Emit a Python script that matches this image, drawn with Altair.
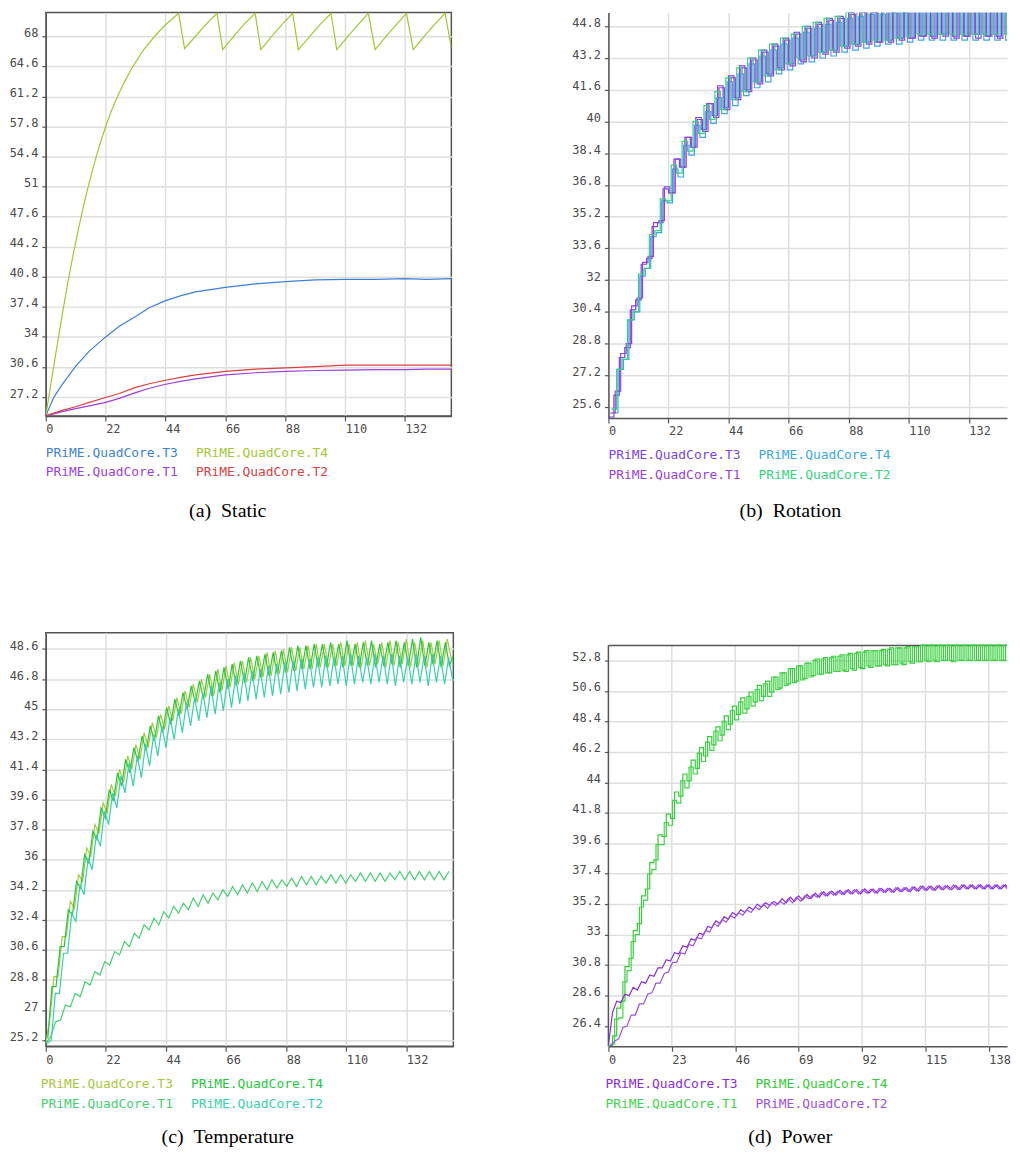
import altair as alt
import pandas as pd

NAMES = ["PRiME.QuadCore.T3", "PRiME.QuadCore.T4", "PRiME.QuadCore.T1", "PRiME.QuadCore.T2"]

# ---------------- (a) Static ----------------
a_t4_t = [0, 2, 4, 6, 8, 10, 12, 14, 16, 18, 20, 22, 24, 26.5, 29, 32, 36, 40, 44, 48.8,
          51, 55, 59, 62.9, 65, 69, 73, 76.9, 79, 83, 87, 90.7, 92.8, 97, 101, 104.8,
          106.9, 111, 115, 118.5, 121, 125, 129, 132.5, 135, 139, 143, 146.7, 149]
a_t4_v = [25.1, 28.9, 32.7, 36.4, 40.0, 43.2, 46.2, 49.0, 51.5, 53.8, 55.9, 57.8, 59.5, 61.3, 62.9, 64.6, 66.5, 68.0, 69.3, 70.6,
          66.6, 68.0, 69.4, 70.6, 66.5, 68.0, 69.4, 70.6, 66.5, 68.0, 69.4, 70.6, 66.5, 68.0, 69.4, 70.6,
          66.5, 68.0, 69.4, 70.6, 66.5, 68.0, 69.4, 70.6, 66.5, 68.0, 69.4, 70.6, 66.7]
a_t = [0, 3, 6, 11, 16, 22, 27, 33, 38, 44, 50, 55, 66, 77, 88, 99, 110, 121, 132, 140, 149]
a_t3_v = [25.1, 27.2, 28.6, 30.7, 32.4, 34.0, 35.2, 36.3, 37.3, 38.1, 38.7, 39.1, 39.6, 40.0, 40.25, 40.45, 40.5, 40.5, 40.6, 40.5, 40.6]
a_t2_v = [25.1, 25.4, 25.7, 26.1, 26.6, 27.15, 27.6, 28.3, 28.7, 29.1, 29.45, 29.7, 30.1, 30.35, 30.5, 30.65, 30.8, 30.8, 30.8, 30.8, 30.8]
a_t1_v = [25.1, 25.3, 25.55, 25.9, 26.2, 26.6, 27.05, 27.7, 28.2, 28.65, 29.0, 29.25, 29.7, 29.95, 30.1, 30.2, 30.25, 30.3, 30.3, 30.35, 30.35]
a_colors = ["#3c7fd8", "#a0c832", "#9b3fdf", "#d9403f"]
a_yticks = [27.2, 30.6, 34, 37.4, 40.8, 44.2, 47.6, 51, 54.4, 57.8, 61.2, 64.6, 68]

# ---------------- (b) Rotation (samples every 2 s) ----------------
b_t3_v = [25.1, 26.2, 28.1, 28.6, 30.5, 31.0, 32.8, 33.1, 34.7, 34.9,
          36.6, 36.4, 38.1, 37.7, 39.2, 38.7, 40.2, 39.6, 40.9, 40.3,
          41.8, 40.7, 42.3, 41.2, 42.8, 41.6, 43.2, 42.0, 43.6, 42.4,
          43.9, 42.7, 44.2, 42.9, 44.5, 43.1, 44.8, 43.3, 45.0, 43.5,
          45.2, 43.6, 45.3, 43.8, 45.5, 43.9, 45.6, 44.0, 45.6, 44.0,
          45.7, 44.1, 45.7, 44.2, 45.8, 44.2, 45.9, 44.3, 45.9, 44.3,
          46.0, 44.4, 45.9, 44.3, 46.0, 44.3, 45.9, 44.4, 46.0, 44.3,
          45.9, 44.3, 46.0, 44.4, 45.9]
b_t1_v = [25.3, 26.4, 28.3, 28.8, 30.7, 31.1, 32.9, 33.2, 34.9, 35.0,
          36.7, 36.4, 38.1, 37.7, 39.2, 38.7, 40.1, 39.5, 40.9, 40.2,
          41.7, 40.6, 42.2, 41.1, 42.7, 41.5, 43.1, 41.9, 43.5, 42.3,
          43.8, 42.6, 44.1, 42.8, 44.4, 43.0, 44.7, 43.2, 44.9, 43.4,
          45.1, 43.5, 45.2, 43.7, 45.4, 43.8, 45.5, 43.9, 45.5, 44.0,
          45.6, 44.0, 45.6, 44.1, 45.7, 44.2, 45.8, 44.3, 45.8, 44.2,
          45.9, 44.3, 45.8, 44.2, 45.9, 44.3, 45.8, 44.2, 45.9, 44.3,
          45.8, 44.2, 45.9, 44.3, 45.8]
b_t2_v = [25.5, 27.5, 28.0, 30.0, 30.4, 32.3, 32.6, 34.3, 34.5, 36.1,
          36.0, 37.8, 37.4, 39.0, 38.5, 40.0, 39.4, 40.8, 40.1, 41.5,
          40.6, 42.2, 41.1, 42.7, 41.5, 43.2, 42.0, 43.6, 42.3, 43.9,
          42.6, 44.2, 42.9, 44.4, 43.2, 44.8, 43.3, 45.0, 43.5, 45.2,
          43.6, 45.3, 43.8, 45.5, 43.9, 45.6, 44.0, 45.7, 44.1, 45.7,
          44.1, 45.8, 44.2, 45.8, 44.3, 45.9, 44.4, 46.0, 44.4, 46.0,
          44.4, 46.0, 44.4, 46.0, 44.4, 46.0, 44.4, 46.0, 44.4, 46.0,
          44.4, 46.0, 44.4, 46.0, 44.4]
b_t4_v = [25.3, 27.5, 28.0, 30.0, 30.4, 32.2, 32.6, 34.2, 34.4, 36.0,
          35.9, 37.6, 37.2, 38.8, 38.3, 39.8, 39.2, 40.5, 39.9, 41.2,
          40.4, 42.0, 40.8, 42.4, 41.3, 42.9, 41.7, 43.3, 42.0, 43.6,
          42.4, 43.9, 42.6, 44.2, 42.9, 44.5, 43.0, 44.7, 43.2, 44.9,
          43.3, 45.0, 43.5, 45.2, 43.6, 45.3, 43.7, 45.4, 43.8, 45.4,
          43.9, 45.5, 43.9, 45.5, 44.0, 45.6, 44.1, 45.7, 44.1, 45.7,
          44.1, 45.7, 44.1, 45.7, 44.1, 45.7, 44.1, 45.7, 44.1, 45.7,
          44.1, 45.7, 44.1, 45.7, 44.1]
b_colors = ["#7a45e6", "#3aa8e3", "#9b40e0", "#33d47c"]
b_yticks = [25.6, 27.2, 28.8, 30.4, 32, 33.6, 35.2, 36.8, 38.4, 40, 41.6, 43.2, 44.8]

# ---------------- (c) Temperature ----------------
c_t3_v = [25.0, 26.5, 29.0, 29.0, 31.4, 31.4, 33.5, 33.1, 35.1, 34.7,
          36.7, 36.2, 38.1, 37.6, 39.4, 38.8, 40.5, 39.8, 41.4, 40.6,
          42.2, 41.4, 42.9, 42.0, 43.6, 42.7, 44.2, 43.3, 44.7, 43.8,
          45.2, 44.3, 45.7, 44.7, 46.1, 45.1, 46.5, 45.4, 46.8, 45.7,
          47.1, 45.8, 47.4, 46.1, 47.6, 46.3, 47.8, 46.5, 47.9, 46.6,
          48.1, 46.8, 48.2, 46.9, 48.4, 47.0, 48.5, 47.1, 48.6, 47.2,
          48.7, 47.3, 48.7, 47.4, 48.8, 47.4, 48.9, 47.5, 48.9, 47.5,
          48.9, 47.6, 49.0, 47.6, 48.9, 47.6, 49.0, 47.5, 49.1, 47.6,
          48.9, 47.7, 49.0, 47.5, 49.1, 47.6, 49.0, 47.7, 49.2, 47.5,
          49.0, 47.6, 49.1, 47.5, 49.0, 47.7, 49.1, 47.6, 49.2, 48.0]
c_t4_v = [25.3, 28.4, 28.4, 30.8, 30.8, 33.0, 32.7, 34.7, 34.3, 36.3,
          35.8, 37.7, 37.2, 39.1, 38.5, 40.2, 39.5, 41.2, 40.4, 42.0,
          41.2, 42.7, 41.9, 43.4, 42.5, 44.0, 43.1, 44.6, 43.6, 45.1,
          44.1, 45.6, 44.6, 46.0, 45.0, 46.4, 45.4, 46.7, 45.6, 47.1,
          45.8, 47.3, 46.0, 47.5, 46.2, 47.7, 46.4, 47.9, 46.6, 48.1,
          46.7, 48.2, 46.9, 48.3, 47.0, 48.4, 47.1, 48.5, 47.2, 48.7,
          47.3, 48.8, 47.4, 48.8, 47.4, 48.9, 47.5, 48.9, 47.5, 49.0,
          47.6, 48.9, 47.5, 49.1, 47.6, 48.9, 47.5, 49.0, 47.6, 49.1,
          47.5, 48.9, 47.6, 49.0, 47.7, 49.1, 47.5, 49.0, 47.6, 49.2,
          47.5, 49.3, 47.6, 49.0, 47.7, 49.1, 47.5, 49.0, 47.6, 48.2]
c_t2_v = [25.0, 25.2, 28.0, 28.0, 30.4, 30.4, 32.8, 32.3, 34.5, 33.9,
          36.1, 35.4, 37.5, 36.8, 38.9, 38.1, 40.0, 39.1, 41.0, 40.0,
          41.8, 40.4, 42.2, 40.9, 42.9, 41.6, 43.5, 42.2, 44.0, 42.7,
          44.5, 43.2, 45.0, 43.6, 45.4, 44.0, 45.7, 44.3, 46.0, 44.5,
          46.4, 44.7, 46.6, 44.9, 46.8, 45.1, 47.0, 45.3, 47.2, 45.5,
          47.3, 45.6, 47.4, 45.7, 47.6, 45.8, 47.7, 45.9, 47.8, 46.0,
          47.9, 46.1, 48.0, 46.2, 48.0, 46.3, 48.1, 46.3, 48.2, 46.4,
          48.1, 46.5, 48.2, 46.4, 48.3, 46.5, 48.2, 46.6, 48.1, 46.5,
          48.3, 46.6, 48.2, 46.5, 48.3, 46.4, 48.2, 46.6, 48.1, 46.5,
          48.3, 46.6, 48.2, 46.4, 48.3, 46.6, 48.2, 46.5, 48.1, 46.7]
c_t1_v = [25.0, 25.4, 26.3, 26.4, 27.3, 27.2, 28.0, 27.8, 28.7, 28.5,
          29.3, 29.1, 29.9, 29.7, 30.5, 30.3, 31.1, 30.8, 31.6, 31.3,
          32.1, 31.8, 32.5, 32.1, 32.9, 32.5, 33.2, 32.8, 33.4, 33.0,
          33.7, 33.2, 33.9, 33.4, 34.0, 33.6, 34.2, 33.8, 34.4, 33.9,
          34.5, 34.0, 34.6, 34.1, 34.7, 34.2, 34.8, 34.3, 34.8, 34.4,
          34.9, 34.4, 35.0, 34.5, 35.0, 34.5, 35.0, 34.6, 35.1, 34.6,
          35.1, 34.6, 35.1, 34.7, 35.2, 34.7, 35.2, 34.7, 35.2, 34.7,
          35.2, 34.8, 35.3, 34.8, 35.3, 34.8, 35.3, 34.8, 35.3, 34.8,
          35.3, 34.8, 35.3]
c_colors = ["#a5c83c", "#22c83e", "#44d070", "#35d0b0"]
c_yticks = [25.2, 27, 28.8, 30.6, 32.4, 34.2, 36, 37.8, 39.6, 41.4, 43.2, 45, 46.8, 48.6]

# ---------------- (d) Power ----------------
d_t4_v = [25.0, 25.7, 27.7, 28.2, 30.7, 31.3, 33.3, 33.8, 35.8, 36.3,
          38.2, 38.4, 40.2, 40.1, 41.7, 41.4, 43.3, 43.0, 44.6, 44.1,
          45.6, 45.0, 46.5, 45.9, 47.3, 46.7, 48.0, 47.4, 48.8, 48.2,
          49.5, 48.9, 50.1, 49.3, 50.5, 49.8, 51.0, 50.2, 51.3, 50.5,
          51.6, 50.8, 51.9, 51.1, 52.2, 51.3, 52.4, 51.5, 52.6, 51.7,
          52.9, 51.8, 53.0, 51.9, 53.1, 52.0, 53.2, 52.0, 53.3, 52.1,
          53.4, 52.2, 53.5, 52.3, 53.5, 52.4, 53.6, 52.4, 53.7, 52.5,
          53.7, 52.5, 53.8, 52.6, 53.8, 52.7, 53.9, 52.7, 53.9, 52.7,
          53.9, 52.8, 53.9, 52.7, 53.9, 52.8, 53.9, 52.8, 53.9, 52.8,
          53.9, 52.8, 53.9, 52.8, 53.9, 52.8, 53.9, 52.8, 53.9, 52.8]
d_t1_v = [25.1, 26.9, 27.0, 29.6, 30.4, 32.5, 33.0, 35.0, 35.5, 37.4,
          37.7, 39.5, 39.5, 41.1, 40.9, 42.7, 42.5, 44.1, 43.6, 45.1,
          44.6, 46.1, 45.5, 46.9, 46.3, 47.7, 47.0, 48.4, 47.8, 49.2,
          48.5, 49.8, 49.0, 50.2, 49.5, 50.7, 49.9, 51.1, 50.2, 51.6,
          50.7, 51.9, 51.0, 52.2, 51.2, 52.4, 51.4, 52.6, 51.6, 52.8,
          51.8, 52.9, 51.9, 53.0, 52.0, 53.1, 52.1, 53.2, 52.2, 53.3,
          52.3, 53.4, 52.4, 53.5, 52.4, 53.5, 52.5, 53.6, 52.5, 53.7,
          52.6, 53.7, 52.7, 53.8, 52.7, 53.9, 52.8, 53.9, 52.8, 53.9,
          52.8, 53.9, 52.8, 53.9, 52.8, 53.9, 52.8, 53.9, 52.8, 53.9,
          52.8, 53.9, 52.8, 53.9, 52.8, 53.9, 52.8, 53.9, 52.8, 53.9]
d_t3_v = [25.0, 27.4, 28.2, 28.1, 28.7, 28.6, 29.2, 29.0, 29.6, 29.5,
          30.1, 30.0, 30.6, 30.6, 31.2, 31.1, 31.7, 31.6, 32.2, 32.1,
          32.7, 32.6, 33.1, 33.0, 33.6, 33.5, 34.0, 33.8, 34.3, 34.1,
          34.6, 34.4, 34.8, 34.6, 35.0, 34.8, 35.2, 35.0, 35.3, 35.1,
          35.4, 35.2, 35.6, 35.3, 35.7, 35.4, 35.8, 35.5, 35.9, 35.6,
          36.0, 35.7, 36.1, 35.8, 36.15, 35.85, 36.2, 35.9, 36.25, 35.95,
          36.25, 35.95, 36.3, 36.0, 36.3, 36.0, 36.35, 36.05, 36.35, 36.05,
          36.4, 36.1, 36.4, 36.1, 36.45, 36.15, 36.5, 36.2, 36.5, 36.2,
          36.55, 36.25, 36.55, 36.25, 36.55, 36.25, 36.6, 36.3, 36.6, 36.3,
          36.6, 36.3, 36.6, 36.3, 36.6, 36.3, 36.6, 36.3, 36.6, 36.3]
d_t2_v = [25.0, 25.3, 25.5, 26.3, 26.4, 27.2, 27.2, 28.0, 28.0, 28.7,
          28.8, 29.5, 29.5, 30.2, 30.3, 31.0, 31.0, 31.7, 31.6, 32.3,
          32.2, 32.8, 32.7, 33.3, 33.2, 33.8, 33.6, 34.1, 33.9, 34.4,
          34.2, 34.6, 34.4, 34.8, 34.6, 35.0, 34.8, 35.2, 34.9, 35.3,
          35.1, 35.4, 35.2, 35.6, 35.3, 35.7, 35.4, 35.8, 35.6, 35.9,
          35.7, 36.05, 35.8, 36.1, 35.85, 36.15, 35.9, 36.2, 35.95, 36.25,
          35.95, 36.25, 36.0, 36.3, 36.0, 36.35, 36.05, 36.35, 36.05, 36.4,
          36.1, 36.4, 36.1, 36.45, 36.15, 36.5, 36.2, 36.5, 36.2, 36.55,
          36.25, 36.55, 36.25, 36.6, 36.25, 36.6, 36.3, 36.6, 36.3, 36.6,
          36.3, 36.6, 36.3, 36.6, 36.3, 36.6, 36.3, 36.6, 36.3, 36.6]
d_colors = ["#8a2be2", "#33cc33", "#3ed44a", "#9b50e2"]
d_yticks = [26.4, 28.6, 30.8, 33, 35.2, 37.4, 39.6, 41.8, 44, 46.2, 48.4, 50.6, 52.8]

x_ticks_22 = [0, 22, 44, 66, 88, 110, 132]
x_ticks_23 = [0, 23, 46, 69, 92, 115, 138]

MONO = "DejaVu Sans Mono"
GRID = "#dedede"
AX = "#555555"
LAB = "#4a4a4a"


def grid_times(start, step, n):
    return [round(start + step * k, 3) for k in range(n)]


def make_df(items):
    rows = []
    for name, ts, vs in items:
        for t, v in zip(ts, vs):
            rows.append({"series": name, "t": t, "v": v})
    return pd.DataFrame(rows)


def panel(layers, colors, xdom, ydom, xticks, yticks, W, H, caption,
          leg_dx, leg_dy, cap_dy, border, top_gap=0):
    color = alt.Color("series:N", scale=alt.Scale(domain=NAMES, range=colors), legend=None)
    xenc = alt.X("t:Q", scale=alt.Scale(domain=xdom, nice=False, zero=False),
                 axis=alt.Axis(values=xticks, title=None, grid=(top_gap == 0), gridColor=GRID, gridWidth=1.5,
                               domainColor=AX, domainWidth=1.5, tickColor=AX, tickSize=5, tickWidth=1.2,
                               labelFont=MONO, labelFontSize=12, labelColor=LAB, labelAlign="left",
                               labelPadding=3, labelFlush=False, labelOverlap=False, format=".1~f"))
    yenc = alt.Y("v:Q", scale=alt.Scale(domain=ydom, nice=False, zero=False),
                 axis=alt.Axis(values=yticks, title=None, grid=True, gridColor=GRID, gridWidth=1.5,
                               domain=(top_gap == 0),
                               domainColor=AX, domainWidth=1.5, tickColor=AX, tickSize=4, tickWidth=1.2,
                               labelFont=MONO, labelFontSize=12, labelColor=LAB, labelBaseline="alphabetic",
                               labelPadding=4, labelFlush=False, labelOverlap=False, format=".1~f"))
    marks = []
    if top_gap:
        # vertical grid lines and frame starting below the (lower) top edge of this panel
        marks.append(alt.Chart(pd.DataFrame({"t": xticks[1:]})).mark_rule(color=GRID, strokeWidth=1.5)
                     .encode(x=alt.X("t:Q", scale=alt.Scale(domain=xdom, nice=False, zero=False)),
                             y=alt.value(top_gap), y2=alt.value(H)))
        marks.append(alt.Chart(pd.DataFrame({"k": [0]})).mark_rule(color=AX, strokeWidth=1.5)
                     .encode(x=alt.value(0), x2=alt.value(W), y=alt.value(top_gap)))
        marks.append(alt.Chart(pd.DataFrame({"k": [0]})).mark_rule(color=AX, strokeWidth=1.5)
                     .encode(x=alt.value(0), y=alt.value(top_gap), y2=alt.value(H)))
    for df, interp in layers:
        marks.append(alt.Chart(df).mark_line(interpolate=interp, strokeWidth=1.2, clip=True)
                     .encode(x=xenc, y=yenc, color=color, detail="series:N"))
    for i, (n, c) in enumerate(zip(NAMES, colors)):
        col, row = i % 2, i // 2
        marks.append(alt.Chart(pd.DataFrame({"label": [n]}))
                     .mark_text(align="left", baseline="middle", font=MONO, fontSize=13, color=c)
                     .encode(text="label:N", x=alt.value(leg_dx + col * 151), y=alt.value(H + leg_dy[row])))
    marks.append(alt.Chart(pd.DataFrame({"label": [caption]}))
                 .mark_text(align="center", baseline="middle", font="Liberation Serif", fontSize=20, color="black")
                 .encode(text="label:N", x=alt.value(183), y=alt.value(H + cap_dy)))
    return alt.layer(*marks).properties(width=W, height=H,
                                        view=alt.ViewBackground(stroke=border, strokeWidth=1.5))


df_a = make_df([(NAMES[0], a_t, a_t3_v), (NAMES[1], a_t4_t, a_t4_v),
                (NAMES[2], a_t, a_t1_v), (NAMES[3], a_t, a_t2_v)])
df_b = make_df([(NAMES[0], grid_times(0, 2, 75), b_t3_v), (NAMES[1], grid_times(1.5, 2, 75), b_t4_v),
                (NAMES[2], grid_times(0.5, 2, 75), b_t1_v), (NAMES[3], grid_times(1.0, 2, 75), b_t2_v)])
df_c = make_df([(NAMES[0], grid_times(0, 1.5, 100), c_t3_v), (NAMES[1], grid_times(0.75, 1.5, 100), c_t4_v),
                (NAMES[2], grid_times(0, 1.8, 83), c_t1_v), (NAMES[3], grid_times(0.5, 1.5, 100), c_t2_v)])
df_d_green = make_df([(NAMES[1], grid_times(0, 1.5, 100), d_t4_v), (NAMES[2], grid_times(0.75, 1.5, 100), d_t1_v)])
df_d_purple = make_df([(NAMES[0], grid_times(0, 1.5, 100), d_t3_v), (NAMES[3], grid_times(0.75, 1.5, 100), d_t2_v)])

pa = panel([(df_a, "linear")], a_colors, [0, 149], [25.06, 70.7], x_ticks_22, a_yticks,
           408, 406, "(a)\u2002Static", 0, [37, 56], 96, AX)
pb = panel([(df_b, "step-after")], b_colors, [0, 146], [25.05, 45.5], x_ticks_22, b_yticks,
           401, 408, "(b)\u2002Rotation", 0, [37, 57], 94, "transparent")
pc = panel([(df_c, "linear")], c_colors, [0, 149.2], [24.84, 49.58], x_ticks_22, c_yticks,
           410, 416, "(c)\u2002Temperature", -5, [38, 58], 91, AX)
pd_ = panel([(df_d_green, "step-after"), (df_d_purple, "linear")], d_colors, [0, 144.6], [24.95, 54.8],
            x_ticks_23, d_yticks, 401, 416, "(d)\u2002Power", -3, [38, 58], 91, "transparent", top_gap=13)

chart = alt.concat(pa, pb, pc, pd_, columns=2, spacing={"row": 216, "column": 156},
                   bounds="flush").resolve_scale(color="independent").properties(padding=0)

chart.save("out.html", embed_options={"renderer": "svg", "actions": False})
